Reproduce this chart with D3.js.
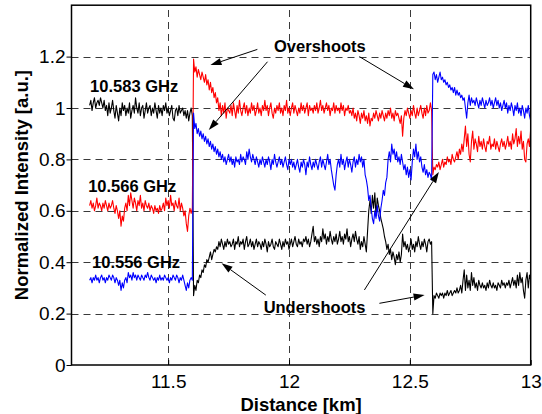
<!DOCTYPE html>
<html>
<head>
<meta charset="utf-8">
<script src="https://cdn.jsdelivr.net/npm/d3@7"></script>
<style>
  body { margin: 0; background: #fff; }
  svg { display: block; }
  text { font-family: "Liberation Sans", Arial, Helvetica, sans-serif; }
</style>
</head>
<body>
<svg id="chart" width="542" height="414"></svg>
<script>
// OTDR-style traces: one sample every 5 m starting at 11.175 km
const distStart = 11.175;
const distStep = 0.005;

// 10.583 GHz (black)
const trace583 = [
  1.01,1.03,0.99,1.02,1.04,1.00,1.02,1.03,1.01,1.04,
  1.02,1.00,1.03,0.99,1.01,0.97,1.02,0.98,1.00,1.03,
  0.99,0.96,1.01,0.98,0.95,1.00,0.97,1.02,0.99,1.01,
  0.97,1.00,0.98,1.02,0.96,0.99,1.01,0.98,1.04,1.00,
  0.98,1.02,0.97,1.00,1.01,0.96,0.99,1.02,0.98,1.00,
  1.01,0.97,1.00,0.98,1.02,0.99,0.96,1.01,0.98,1.00,
  0.97,1.01,0.99,1.02,0.98,1.00,0.97,0.99,1.01,0.96,
  0.95,0.99,1.00,0.97,1.01,0.98,0.99,1.00,0.97,0.99,
  0.96,0.99,0.95,0.98,1.00,0.97,
  0.27,0.31,0.29,0.33,0.32,0.35,0.34,0.37,0.36,0.39,
  0.38,0.41,0.40,0.42,0.44,0.41,0.43,0.45,0.44,0.46,
  0.45,0.48,0.46,0.49,0.47,0.45,0.48,0.46,0.49,0.47,
  0.48,0.46,0.47,0.49,0.45,0.48,0.47,0.50,0.46,0.48,
  0.47,0.49,0.45,0.48,0.50,0.46,0.47,0.49,0.46,0.48,
  0.45,0.47,0.49,0.46,0.48,0.47,0.45,0.48,0.46,0.49,
  0.47,0.44,0.48,0.46,0.47,0.49,0.46,0.45,0.48,0.47,
  0.46,0.49,0.47,0.45,0.48,0.46,0.49,0.47,0.48,0.45,
  0.47,0.49,0.46,0.48,0.50,0.47,0.46,0.49,0.47,0.48,
  0.46,0.49,0.48,0.50,0.47,0.49,0.46,0.48,0.51,0.54,
  0.48,0.50,0.47,0.49,0.46,0.50,0.48,0.53,0.49,0.51,
  0.47,0.50,0.48,0.52,0.49,0.47,0.50,0.48,0.51,0.47,
  0.49,0.52,0.48,0.50,0.47,0.51,0.49,0.53,0.48,0.50,
  0.46,0.49,0.51,0.48,0.52,0.49,0.47,0.50,0.45,
  0.48,0.46,0.50,0.47,0.44,0.52,0.60,0.64,0.59,0.66,
  0.61,0.67,0.58,0.65,0.62,0.60,0.57,0.55,0.53,0.50,
  0.48,0.45,0.47,0.43,0.45,0.41,0.44,0.42,0.39,0.43,
  0.41,0.44,0.40,0.43,0.51,0.46,0.48,0.45,0.47,0.44,
  0.46,0.49,0.45,0.47,0.44,0.48,0.46,0.50,0.47,0.45,
  0.48,0.46,0.49,0.47,0.44,0.48,0.49,0.47,0.48,
  0.20,0.27,0.26,0.28,0.27,0.26,0.28,0.27,0.28,0.26,
  0.28,0.27,0.29,0.27,0.28,0.29,0.27,0.28,0.29,0.28,
  0.30,0.28,0.29,0.31,0.28,0.33,0.37,0.29,0.35,0.30,
  0.33,0.29,0.36,0.31,0.34,0.30,0.32,0.29,0.33,0.31,
  0.30,0.32,0.30,0.31,0.29,0.32,0.30,0.33,0.31,0.30,
  0.32,0.30,0.31,0.29,0.32,0.31,0.30,0.33,0.31,0.32,
  0.30,0.32,0.31,0.33,0.30,0.32,0.34,0.31,0.33,0.30,
  0.35,0.31,0.36,0.32,0.34,0.29,0.26,0.33,0.36,0.30,
  0.35,0.33
];

// 10.566 GHz (red)
const trace566 = [
  0.62,0.64,0.61,0.63,0.60,0.62,0.65,0.61,0.63,0.62,
  0.60,0.63,0.61,0.64,0.62,0.60,0.63,0.61,0.62,0.64,
  0.61,0.59,0.62,0.60,0.57,0.60,0.54,0.58,0.56,0.61,
  0.63,0.60,0.66,0.62,0.67,0.64,0.61,0.65,0.63,0.60,
  0.64,0.62,0.66,0.61,0.63,0.60,0.64,0.62,0.61,0.63,
  0.60,0.62,0.61,0.59,0.62,0.60,0.61,0.59,0.62,0.60,
  0.61,0.63,0.60,0.65,0.62,0.64,0.61,0.66,0.62,0.63,
  0.60,0.64,0.62,0.61,0.65,0.60,0.63,0.61,0.58,0.60,
  0.55,0.52,0.58,0.61,0.59,0.61,
  1.19,1.14,1.16,1.12,1.15,1.13,1.11,1.14,1.12,1.10,
  1.13,1.09,1.11,1.07,1.10,1.06,1.08,1.04,1.06,1.02,
  1.04,0.99,1.02,0.97,1.01,0.98,1.02,0.96,1.00,0.99,
  0.98,1.01,0.97,1.02,0.99,0.96,1.01,0.98,1.03,0.99,
  0.97,1.00,1.02,0.98,1.01,0.97,1.00,0.98,1.02,0.99,
  1.01,0.97,0.99,1.02,0.98,1.00,0.97,1.01,0.99,1.03,
  0.99,1.01,0.97,1.00,1.02,0.98,0.96,1.00,0.98,1.01,
  0.99,1.02,0.98,1.00,0.97,1.01,0.99,1.03,0.98,1.00,
  0.97,1.00,1.02,0.98,1.01,0.99,0.97,1.00,0.98,1.02,
  0.99,1.01,0.98,1.00,1.02,0.97,1.01,0.99,1.00,0.98,
  1.01,0.99,1.02,0.98,1.00,1.03,0.99,1.01,0.98,1.00,
  1.02,0.99,1.01,0.97,1.00,0.99,1.02,0.98,1.01,0.99,
  1.00,0.98,1.02,0.99,1.01,0.97,1.00,0.99,1.01,0.98,
  0.99,0.97,1.00,0.96,0.98,0.95,0.99,0.97,0.94,
  0.98,0.96,0.99,0.95,0.97,0.94,0.98,0.93,0.96,0.95,
  0.98,0.96,0.99,0.97,0.95,0.98,0.96,0.99,0.97,0.95,
  0.98,0.96,0.99,0.97,1.00,0.96,0.98,0.95,0.99,0.97,
  0.98,0.96,0.94,0.97,0.89,0.96,0.99,0.97,1.00,0.98,
  0.96,0.99,0.97,1.01,0.98,0.96,1.00,0.97,0.99,1.01,
  0.98,0.96,1.00,0.97,1.01,0.98,0.99,1.02,0.99,
  0.74,0.77,0.76,0.78,0.77,0.79,0.76,0.78,0.80,0.77,
  0.79,0.78,0.81,0.79,0.80,0.78,0.82,0.80,0.79,0.81,
  0.83,0.80,0.84,0.82,0.86,0.83,0.88,0.93,0.85,0.90,
  0.82,0.79,0.87,0.91,0.84,0.88,0.86,0.83,0.89,0.85,
  0.87,0.84,0.88,0.85,0.83,0.87,0.86,0.89,0.84,0.86,
  0.85,0.88,0.84,0.87,0.85,0.83,0.86,0.88,0.85,0.87,
  0.84,0.86,0.89,0.85,0.87,0.84,0.90,0.86,0.88,0.92,
  0.85,0.89,0.86,0.91,0.84,0.87,0.80,0.79,0.86,0.88,
  0.85,0.92
];

// 10.556 GHz (blue)
const trace556 = [
  0.33,0.34,0.32,0.34,0.33,0.35,0.33,0.34,0.32,0.34,
  0.35,0.33,0.34,0.32,0.34,0.33,0.35,0.34,0.33,0.35,
  0.34,0.32,0.34,0.33,0.31,0.33,0.29,0.32,0.30,0.33,
  0.34,0.32,0.36,0.34,0.35,0.33,0.36,0.34,0.35,0.33,
  0.35,0.34,0.33,0.35,0.34,0.33,0.35,0.34,0.36,0.34,
  0.33,0.35,0.34,0.33,0.34,0.32,0.34,0.33,0.35,0.33,
  0.34,0.33,0.35,0.34,0.33,0.34,0.32,0.34,0.33,0.35,
  0.34,0.33,0.35,0.34,0.32,0.34,0.33,0.35,0.33,0.31,
  0.29,0.32,0.30,0.33,0.34,0.33,
  0.98,0.92,0.94,0.90,0.92,0.89,0.91,0.88,0.90,0.87,
  0.89,0.86,0.88,0.85,0.87,0.84,0.86,0.83,0.85,0.82,
  0.84,0.81,0.83,0.80,0.82,0.79,0.81,0.78,0.80,0.82,
  0.79,0.81,0.78,0.80,0.77,0.81,0.79,0.80,0.78,0.82,
  0.79,0.81,0.80,0.78,0.83,0.80,0.84,0.81,0.79,0.82,
  0.80,0.78,0.81,0.79,0.77,0.80,0.78,0.81,0.79,0.77,
  0.80,0.78,0.81,0.79,0.76,0.80,0.78,0.82,0.79,0.77,
  0.79,0.81,0.78,0.80,0.77,0.79,0.81,0.78,0.76,0.80,
  0.78,0.80,0.77,0.79,0.76,0.78,0.80,0.77,0.75,0.79,
  0.77,0.80,0.78,0.74,0.79,0.77,0.81,0.78,0.76,0.79,
  0.77,0.80,0.78,0.76,0.79,0.81,0.77,0.80,0.78,0.76,
  0.79,0.82,0.78,0.80,0.76,0.73,0.70,0.68,0.74,0.78,
  0.80,0.77,0.82,0.78,0.80,0.76,0.79,0.81,0.77,0.80,
  0.78,0.75,0.79,0.81,0.77,0.80,0.78,0.82,0.79,
  0.81,0.77,0.80,0.74,0.72,0.69,0.64,0.66,0.61,0.57,
  0.55,0.60,0.57,0.62,0.58,0.56,0.61,0.64,0.68,0.66,
  0.71,0.73,0.80,0.83,0.79,0.86,0.82,0.84,0.80,0.83,
  0.79,0.81,0.78,0.82,0.79,0.76,0.78,0.74,0.77,0.73,
  0.76,0.72,0.79,0.84,0.81,0.86,0.80,0.83,0.79,0.81,
  0.77,0.75,0.78,0.74,0.76,0.73,0.75,0.74,0.72,
  1.13,1.14,1.11,1.13,1.10,1.12,1.14,1.11,1.12,1.10,
  1.11,1.09,1.10,1.08,1.09,1.07,1.08,1.06,1.08,1.05,
  1.07,1.05,1.06,1.04,1.05,1.03,1.04,1.00,0.96,1.02,
  1.05,1.01,1.04,1.02,1.03,1.01,1.04,1.02,1.00,1.03,
  1.01,1.04,1.02,1.00,1.03,1.01,1.02,1.04,1.01,1.03,
  1.00,1.02,1.04,1.01,1.03,1.00,1.02,0.99,1.01,1.03,
  1.00,1.02,0.98,1.01,0.99,1.02,1.00,0.97,1.01,0.99,
  1.02,0.98,1.00,0.97,1.01,0.99,0.96,1.00,0.98,1.01,
  0.97,0.95
];

const traceColors = ["#000000", "#ff0000", "#0000ff"];
const traceNames = ["10.583 GHz", "10.566 GHz", "10.556 GHz"];
// label anchor [distance km, intensity] for each trace name
const traceNamePos = [[11.177, 1.062], [11.169, 0.673], [11.185, 0.377]];

const xTicks = [11.5, 12, 12.5, 13];
const yTicks = [0, 0.2, 0.4, 0.6, 0.8, 1, 1.2];
const xTitle = "Distance [km]";
const yTitle = "Normalized Intensity [a.u.]";

// annotation callouts: text + arrows [fromDist, fromVal, toDist, toVal]
const callouts = [
  { text: "Overshoots", at: [11.938, 1.218], arrows: [
      [11.869, 1.228, 11.675, 1.167],
      [11.911, 1.180, 11.668, 0.914],
      [12.291, 1.200, 12.517, 1.073]] },
  { text: "Undershoots", at: [11.895, 0.202], arrows: [
      [11.904, 0.272, 11.721, 0.396],
      [12.312, 0.292, 12.620, 0.751],
      [12.374, 0.240, 12.561, 0.272]] }
];

const svg = d3.select("#chart");
const W = 542, H = 414;
const m = { left: 71.5, right: 11.3, top: 5.2, bottom: 49 };

const x = d3.scaleLinear().domain([11.1, 13]).range([m.left, W - m.right]);
const y = d3.scaleLinear().domain([0, 1.4]).range([H - m.bottom, m.top]);

svg.append("rect").attr("width", W).attr("height", H).attr("fill", "#fff");

svg.append("defs").append("clipPath").attr("id", "plotClip")
  .append("rect")
  .attr("x", x(11.1)).attr("y", y(1.4))
  .attr("width", x(13) - x(11.1)).attr("height", y(0) - y(1.4));

// dashed grid
const grid = svg.append("g").attr("stroke", "#3a3a3a").attr("stroke-width", 1)
  .attr("stroke-dasharray", "7,5");
grid.selectAll("line.h").data(yTicks.filter(v => v > 0)).join("line")
  .attr("class", "h")
  .attr("x1", x(11.1)).attr("x2", x(13))
  .attr("y1", d => Math.round(y(d)) + 0.5).attr("y2", d => Math.round(y(d)) + 0.5);
grid.selectAll("line.v").data(xTicks.filter(v => v < 13)).join("line")
  .attr("class", "v")
  .attr("y1", y(0)).attr("y2", y(1.4))
  .attr("x1", d => Math.round(x(d)) + 0.5).attr("x2", d => Math.round(x(d)) + 0.5);

// traces
const line = d3.line()
  .x((d, i) => x(distStart + i * distStep))
  .y(d => y(d));

const traces = [trace583, trace566, trace556];
svg.append("g").attr("clip-path", "url(#plotClip)")
  .selectAll("path").data(traces).join("path")
  .attr("d", d => line(d))
  .attr("fill", "none")
  .attr("stroke", (d, i) => traceColors[i])
  .attr("stroke-width", 1.1)
  .attr("stroke-linejoin", "round");

// axes
const xAxis = d3.axisBottom(x).tickValues(xTicks).tickFormat(d => String(d))
  .tickSizeInner(-5).tickSizeOuter(0).tickPadding(10);
const gx = svg.append("g").attr("transform", `translate(0,${y(0)})`).call(xAxis);
gx.select(".domain").remove();
gx.selectAll("text").attr("font-size", 19).attr("fill", "#000")
  .style("font-family", '"Liberation Sans", Arial, sans-serif');
gx.selectAll(".tick line").attr("stroke", "#000");

const yAxis = d3.axisLeft(y).tickValues(yTicks).tickFormat(d => String(d))
  .tickSizeInner(5).tickSizeOuter(0).tickPadding(1);
const gy = svg.append("g").attr("transform", `translate(${x(11.1)},0)`).call(yAxis);
gy.select(".domain").remove();
gy.selectAll("text").attr("font-size", 19).attr("fill", "#000")
  .style("font-family", '"Liberation Sans", Arial, sans-serif');
gy.selectAll(".tick line").attr("stroke", "#000");

// frame
svg.append("rect")
  .attr("x", x(11.1)).attr("y", y(1.4))
  .attr("width", x(13) - x(11.1)).attr("height", y(0) - y(1.4))
  .attr("fill", "none").attr("stroke", "#000").attr("stroke-width", 1.5);

// axis titles
svg.append("text")
  .attr("x", (x(11.1) + x(13)) / 2).attr("y", 410.5)
  .attr("text-anchor", "middle").attr("font-weight", "bold").attr("font-size", 18.5)
  .text(xTitle);
svg.append("text")
  .attr("transform", `translate(27.5,${(y(0) + y(1.4)) / 2}) rotate(-90)`)
  .attr("text-anchor", "middle").attr("font-weight", "bold").attr("font-size", 18.5)
  .text(yTitle);

// trace names
svg.selectAll("text.tname").data(traceNames).join("text")
  .attr("class", "tname")
  .attr("x", (d, i) => x(traceNamePos[i][0]))
  .attr("y", (d, i) => y(traceNamePos[i][1]))
  .attr("font-weight", "bold").attr("font-size", 16.5)
  .text(d => d);

// callouts
const ann = svg.append("g");
callouts.forEach(c => {
  ann.append("text")
    .attr("x", x(c.at[0])).attr("y", y(c.at[1]))
    .attr("font-weight", "bold").attr("font-size", 16.5)
    .text(c.text);
  c.arrows.forEach(a => {
    const x0 = x(a[0]), y0 = y(a[1]), x1 = x(a[2]), y1 = y(a[3]);
    const ang = Math.atan2(y1 - y0, x1 - x0);
    const L = 11, hw = 3.6;
    const bx = x1 - L * Math.cos(ang), by = y1 - L * Math.sin(ang);
    ann.append("line")
      .attr("x1", x0).attr("y1", y0).attr("x2", bx).attr("y2", by)
      .attr("stroke", "#000").attr("stroke-width", 1);
    const px = -Math.sin(ang) * hw, py = Math.cos(ang) * hw;
    ann.append("path")
      .attr("d", `M${x1},${y1}L${bx + px},${by + py}L${bx - px},${by - py}Z`)
      .attr("fill", "#000");
  });
});
</script>
</body>
</html>
